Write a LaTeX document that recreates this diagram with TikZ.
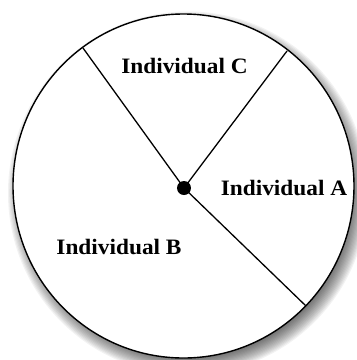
\documentclass[tikz,border=0pt]{standalone}
\usepackage{fontspec}
\setmainfont{Liberation Serif}
\begin{document}
\begin{tikzpicture}[x=1pt,y=-1pt,
  lbl/.style={font=\fontsize{22}{26}\selectfont\bfseries, anchor=base, inner sep=0pt},
  spoke/.style={line width=1.3pt},
  hubdot/.style={circle, fill=black, minimum size=14pt, inner sep=0pt}]
\useasboundingbox (0,0) rectangle (357,360);
\foreach \i in {0,...,15} {
  \fill[black, opacity=0.05] (188,193) ellipse [x radius={(180-\i*1.2)*1pt}, y radius={(181.5-\i*1.2)*1pt}];
}
\draw[fill=white, line width=1.4pt] (183.5,186) ellipse [x radius=170.5pt, y radius=172pt];
\coordinate (e1) at (83,48);
\coordinate (e2) at (287,51);
\coordinate (e3) at (306,306);
\node[hubdot] (hub) at (184,188) {};
\draw[spoke] (hub.center) -- (e1);
\draw[spoke] (hub.center) -- (e2);
\draw[spoke] (hub.center) -- (e3);
\node[lbl] (C) at (184.5,73) {\scalebox{1.06}[1]{Individual C}};
\node[lbl] (A) at (284,195) {\scalebox{1.06}[1]{Individual A}};
\node[lbl] (B) at (119,254) {\scalebox{1.06}[1]{Individual B}};
\end{tikzpicture}
\end{document}
